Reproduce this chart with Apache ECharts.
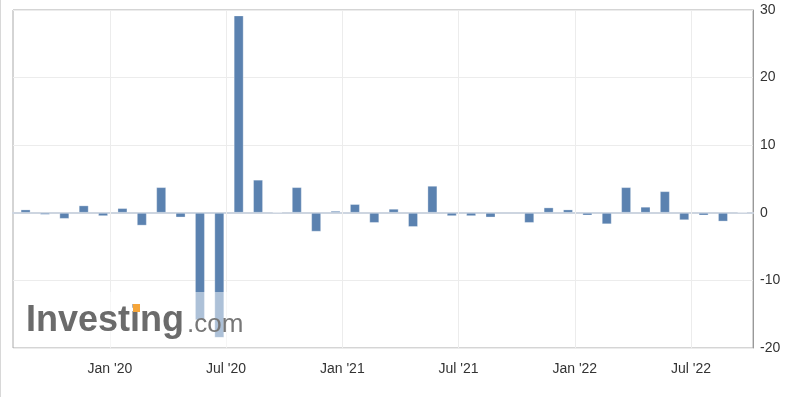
<!DOCTYPE html>
<html>
<head>
<meta charset="utf-8">
<script src="https://cdn.jsdelivr.net/npm/echarts@6/dist/echarts.min.js"></script>
<style>
    html, body { margin: 0; padding: 0; background: #fff; }
    #chart { width: 798px; height: 397px; }
</style>
</head>
<body>
<div id="chart"></div>
<script>
// 月份: 2019-08 ~ 2022-09
var months = ['2019-08','2019-09','2019-10','2019-11','2019-12','2020-01','2020-02','2020-03','2020-04','2020-05',
    '2020-06','2020-07','2020-08','2020-09','2020-10','2020-11','2020-12','2021-01','2021-02','2021-03',
    '2021-04','2021-05','2021-06','2021-07','2021-08','2021-09','2021-10','2021-11','2021-12','2022-01',
    '2022-02','2022-03','2022-04','2022-05','2022-06','2022-07','2022-08','2022-09'];
var values = [0.5, -0.3, -0.9, 1.1, -0.5, 0.7, -1.9, 3.8, -0.7, -15.9,
    -18.5, 29.2, 4.9, 0.1, 3.8, -2.8, 0.3, 1.3, -1.5, 0.6,
    -2.1, 4.0, -0.5, -0.5, -0.7, null, -1.5, 0.8, 0.5, -0.4,
    -1.7, 3.8, 0.9, 3.2, -1.1, -0.4, -1.3, 0.1];
// 刻度 (Jan/Jul)
var tickMonths = ['2020-01','2020-07','2021-01','2021-07','2022-01','2022-07'];
var monthNames = ['Jan','Feb','Mar','Apr','May','Jun','Jul','Aug','Sep','Oct','Nov','Dec'];
var yTicks = [-20, -10, 0, 10, 20, 30];

// month index counted from Jan 2019
function monthIndex(s) {
    var p = s.split('-');
    return (Number(p[0]) - 2019) * 12 + Number(p[1]) - 1;
}
var releaseOffset = 0.65; // bars sit around the release day of the month

var barData = months.map(function (m, i) {
    return [monthIndex(m) + releaseOffset, values[i]];
});
var tickIdx = tickMonths.map(monthIndex);

var myChart = echarts.init(document.getElementById('chart'));
var font = 'Liberation Sans, Arial, sans-serif';

var option = {
    animation: false,
    grid: {
        left: 13,
        right: 45,
        top: 10,
        bottom: 49,
        show: true,
        borderColor: '#aaaaaa',
        borderWidth: 1
    },
    xAxis: {
        type: 'value',
        min: 7,
        max: 45.2,
        interval: 1,
        axisLine: { show: true, lineStyle: { color: '#cdd5e0', width: 2 } },
        axisTick: { show: false },
        splitLine: { show: false },
        axisLabel: {
            color: '#333',
            fontSize: 14,
            fontFamily: font,
            margin: 14,
            formatter: function (v) {
                if (tickIdx.indexOf(v) < 0) return '';
                var y = 2019 + Math.floor(v / 12);
                return monthNames[v % 12] + " '" + String(y).slice(2);
            }
        }
    },
    yAxis: [{
        type: 'value',
        position: 'right',
        min: yTicks[0],
        max: yTicks[yTicks.length - 1],
        interval: 10,
        axisLine: { show: true, lineStyle: { color: '#999999', width: 1 } },
        axisTick: { show: false },
        axisLabel: { color: '#333', fontSize: 14, fontFamily: font, margin: 7 },
        splitLine: { lineStyle: { color: '#ececec', width: 1 } }
    }, {
        // 只画零线
        type: 'value',
        min: -20,
        max: 30,
        interval: 20,
        axisLine: { show: false },
        axisTick: { show: false },
        axisLabel: { show: false },
        splitLine: { lineStyle: { color: ['rgba(0,0,0,0)', '#b0b0b0', 'rgba(0,0,0,0)', 'rgba(0,0,0,0)'], width: 2 } }
    }],
    series: [{
        type: 'bar',
        data: barData,
        barWidth: 10,
        itemStyle: {
            color: '#5b82b0',
            borderColor: 'rgba(255,255,255,0.3)',
            borderWidth: 1
        },
        markLine: {
            silent: true,
            symbol: 'none',
            label: { show: false },
            z: 1,
            data: tickIdx.map(function (t) {
                return { xAxis: t, lineStyle: { color: '#ececec', width: 1, type: 'solid' } };
            })
        }
    }],
    graphic: [
        { type: 'rect', z: 100, shape: { x: 0, y: 0, width: 1, height: 397 }, style: { fill: '#d8d8d8' } },
        { type: 'rect', z: 100, shape: { x: 20, y: 292, width: 232, height: 55 }, style: { fill: 'rgba(255,255,255,0.5)' } },
        { type: 'text', z: 101, x: 26, y: 321, style: { text: 'Investing', font: 'bold 36px ' + font, fill: '#6b6b6b', verticalAlign: 'middle' } },
        { type: 'rect', z: 102, shape: { x: 133, y: 304, width: 7, height: 8 }, style: { fill: '#f5a53a' } },
        { type: 'text', z: 101, x: 187, y: 325, style: { text: '.com', font: '26px ' + font, fill: '#777777', verticalAlign: 'middle' } }
    ]
};

myChart.setOption(option);
</script>
</body>
</html>
